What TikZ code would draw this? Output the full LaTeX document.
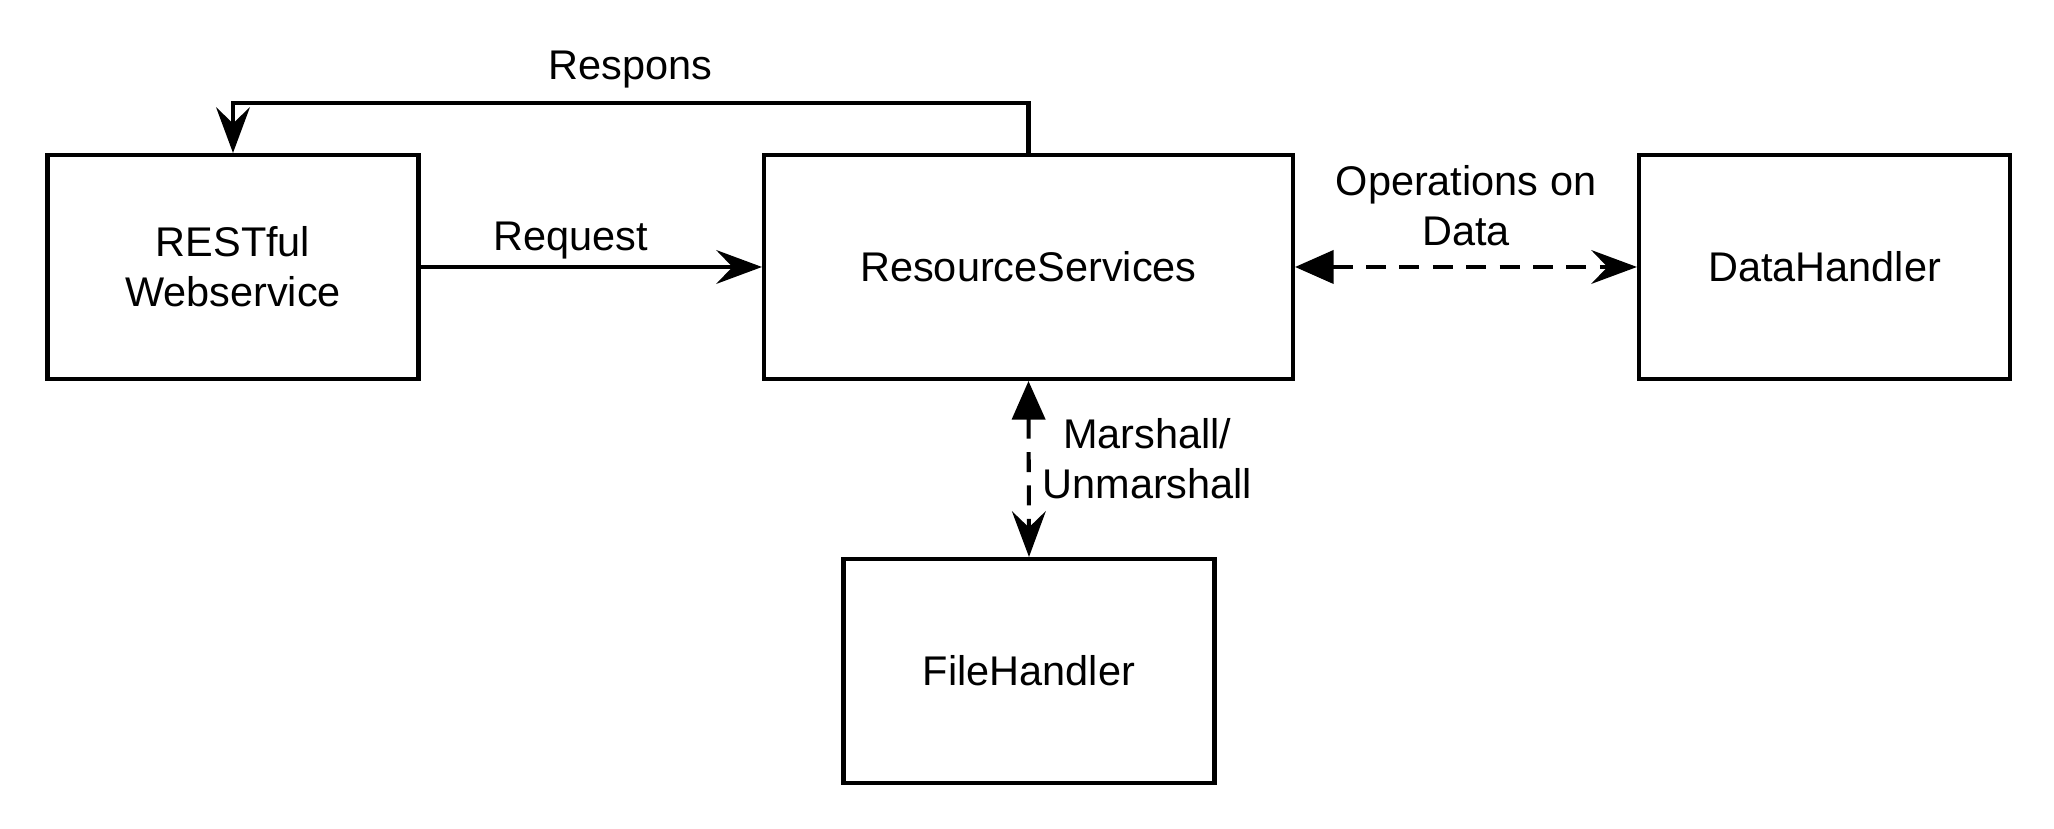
\documentclass[tikz,border=0pt]{standalone}
\usepackage{fontspec}
\setmainfont{Liberation Sans}
\usetikzlibrary{arrows.meta,positioning}

\begin{document}
\begin{tikzpicture}[
    font=\fontsize{11.8}{14.2}\selectfont,
    line width=1.15pt,
    box/.style={draw, minimum width=3.71cm, minimum height=2.24cm, align=center},
    bigbox/.style={box, minimum width=5.29cm},
    flow/.style={-{Stealth[length=13pt, width=9.6pt, inset=4.6pt]}},
    dataflow/.style={{Triangle[length=11pt, width=9.4pt]}-{Stealth[length=13pt, width=9.6pt, inset=4.6pt]}, dash pattern=on 5.7pt off 3.8pt}
]
\useasboundingbox (0,0) rectangle (20.54,8.29);

% Boxes
\node[box] (rest) at (2.33,5.62) {RESTful\\Webservice};
\node[bigbox] (res) at (10.285,5.62) {ResourceServices};
\node[box] (data) at (18.245,5.62) {DataHandler};
\node[box] (file) at (10.29,1.58) {FileHandler};

% Request
\draw[flow] (rest.east) -- node[above, pos=0.44, yshift=-1.6pt] {Request} (res.west);

% Respons
\draw[flow] (res.north) -- ++(0,0.5) -| node[above, pos=0.25, yshift=0.4pt] {Respons} (rest.north);

% Operations on Data
\draw[dataflow] (res.east) -- node[above, align=center, yshift=2.2pt] {Operations on\\Data} (data.west);

% Marshall / Unmarshall
\draw[dataflow] (res.south) -- node[right, align=center, yshift=3pt] {Marshall/\\Unmarshall} (file.north);

\end{tikzpicture}
\end{document}
